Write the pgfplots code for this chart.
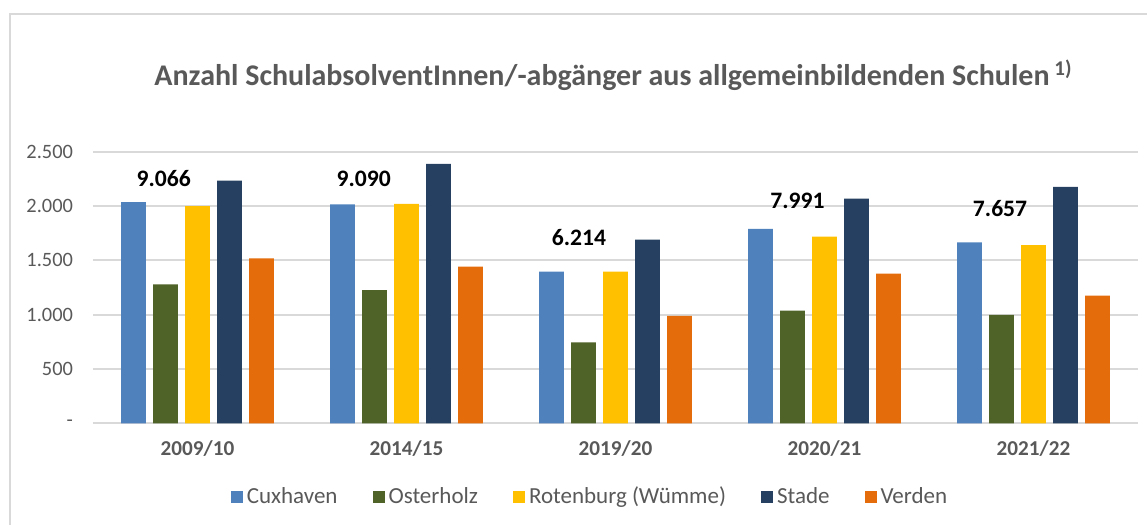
\documentclass[border=0pt]{standalone}
\usepackage{fontspec}
\setmainfont{Carlito}
\usepackage{pgfplots}
\usepackage{pgfplotstable}
\pgfplotsset{compat=1.18}

\definecolor{cux}{HTML}{4F81BD}
\definecolor{ost}{HTML}{4F6228}
\definecolor{rot}{HTML}{FFC000}
\definecolor{sta}{HTML}{254061}
\definecolor{ver}{HTML}{E46C0A}
\definecolor{txt}{HTML}{595959}
\definecolor{grd}{HTML}{D9D9D9}

% Absolventen je Landkreis
\pgfplotstableread{
x cux ost rot sta ver
0 2037 1279 2000 2233 1517
1 2016 1225 2019 2388 1442
2 1395 745 1395 1690 989
3 1790 1037 1718 2068 1378
4 1666 997 1641 2177 1176
}\absolventen

\begin{document}
\begin{tikzpicture}
\path[use as bounding box] (0,0) rectangle (573.5pt,262.5pt);
\draw[grd, line width=0.85pt] (5pt,0) -- (5pt,255.35pt) -- (573.5pt,255.35pt);

\node[font=\bfseries\fontsize{15}{18}\selectfont, text=txt] at (306.75pt,225pt)
  {Anzahl SchulabsolventInnen/-abgänger aus allgemeinbildenden Schulen\,\textsuperscript{1)}};

\begin{axis}[
  at={(46.5pt,50.85pt)}, anchor=south west,
  scale only axis,
  width=522.5pt, height=135.8pt,
  ybar=3.65pt, bar width=12.35pt,
  xmin=-0.5, xmax=4.5,
  ymin=0, ymax=2500,
  xtick={0,1,2,3,4},
  xticklabels={2009/10,2014/15,2019/20,2020/21,2021/22},
  ytick={0,500,1000,1500,2000,2500},
  yticklabels={-,500,1.000,1.500,2.000,2.500},
  /pgf/number format/assume math mode=true,
  axis line style={draw=none},
  major tick length=0pt,
  ymajorgrids,
  grid style={grd, line width=0.9pt},
  yticklabel style={font=\fontsize{10.2}{12}\selectfont, text=txt, xshift=-6.5pt},
  xticklabel style={font=\bfseries\fontsize{10.6}{12}\selectfont, text=txt, yshift=-5pt},
  legend columns=5,
  legend style={at={(0.4766,-0.2714)}, anchor=center, draw=none,
    font=\fontsize{11.5}{13}\selectfont, text=txt,
    /tikz/every even column/.append style={column sep=15.5pt}},
  legend image code/.code={\fill[#1] (0pt,-3pt) rectangle (6pt,3pt);},
]
\addplot[fill=cux, draw=none] table[x=x, y=cux] {\absolventen};
\addplot[fill=ost, draw=none] table[x=x, y=ost] {\absolventen};
\addplot[fill=rot, draw=none] table[x=x, y=rot] {\absolventen};
\addplot[fill=sta, draw=none] table[x=x, y=sta] {\absolventen};
\addplot[fill=ver, draw=none] table[x=x, y=ver] {\absolventen};
\legend{Cuxhaven, Osterholz, Rotenburg (Wümme), Stade, Verden}

\begin{scope}[every node/.style={font=\bfseries\fontsize{11.8}{14}\selectfont}]
\node at (axis cs:-0.162,2249) {9.066};
\node at (axis cs:0.795,2249) {9.090};
\node at (axis cs:1.825,1706) {6.214};
\node at (axis cs:2.871,2049) {7.991};
\node at (axis cs:3.840,1973) {7.657};
\end{scope}
\end{axis}
\end{tikzpicture}
\end{document}
